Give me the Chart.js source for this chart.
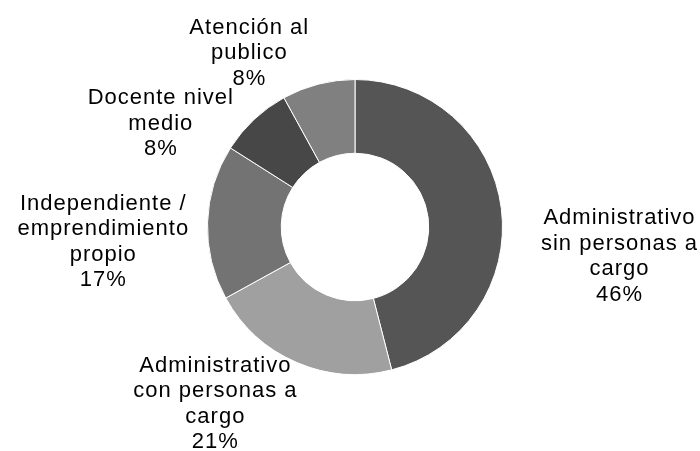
<!DOCTYPE html>
<html>
<head>
<meta charset="utf-8">
<script src="https://cdn.jsdelivr.net/npm/chart.js@4"></script>
<style>
  html, body { margin: 0; padding: 0; background: #fff; }
  #wrap { width: 700px; height: 451px; }
</style>
</head>
<body>
<div id="wrap"><canvas id="graph" width="700" height="451"></canvas></div>
<script>
// Categorías (con saltos de línea como en la imagen)
var categories = [
    ['Administrativo', 'sin personas a', 'cargo'],
    ['Administrativo', 'con personas a', 'cargo'],
    ['Independiente /', 'emprendimiento', 'propio'],
    ['Docente nivel', 'medio'],
    ['Atención al', 'publico']
];
var values = [46, 21, 17, 8, 8];
var sliceColors = ['#555555', '#a0a0a0', '#737373', '#474747', '#808080'];

// Posición de las etiquetas, en radios respecto al centro
var labelOffsets = [
    [1.79, 0.20],
    [-0.95, 1.20],
    [-1.71, 0.10],
    [-1.32, -0.70],
    [-0.72, -1.18]
];

var outsideLabels = {
    id: 'outsideLabels',
    afterDraw: function(chart) {
        var ctx = chart.ctx;
        var meta = chart.getDatasetMeta(0);
        var total = values.reduce(function(a, b) { return a + b; }, 0);
        ctx.save();
        ctx.font = '22px "Liberation Sans", Arial, sans-serif';
        ctx.fillStyle = '#000';
        ctx.textAlign = 'center';
        ctx.textBaseline = 'middle';
        ctx.letterSpacing = '1px';
        var lineH = 25.5;
        meta.data.forEach(function(arc, i) {
            var r = arc.outerRadius;
            var cx = arc.x + labelOffsets[i][0] * r;
            var cy = arc.y + labelOffsets[i][1] * r;
            var lines = categories[i].concat([Math.round(values[i] / total * 100) + '%']);
            lines.forEach(function(line, j) {
                ctx.fillText(line, cx + 0.5, cy + (j - (lines.length - 1) / 2) * lineH);
            });
        });
        ctx.restore();
    }
};

var chart = new Chart(document.getElementById('graph').getContext('2d'), {
    type: 'doughnut',
    data: {
        labels: categories,
        datasets: [{
            data: values,
            backgroundColor: sliceColors,
            borderColor: '#ffffff',
            borderWidth: 1
        }]
    },
    options: {
        responsive: false,
        maintainAspectRatio: false,
        animation: false,
        cutout: '50%',
        layout: { padding: { top: 79, bottom: 76, left: 10, right: 0 } },
        plugins: {
            legend: { display: false },
            tooltip: { enabled: false }
        }
    },
    plugins: [outsideLabels]
});
</script>
</body>
</html>
